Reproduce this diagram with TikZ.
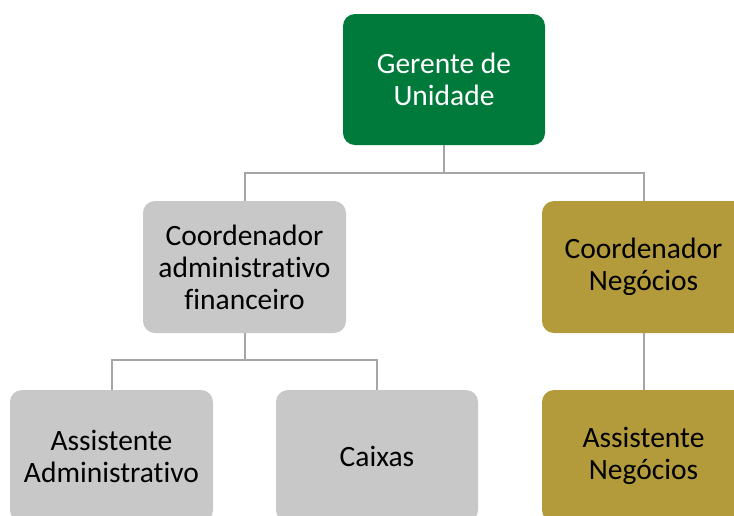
\documentclass[tikz,border=0pt]{standalone}
\usepackage{fontspec}
\setmainfont{Carlito}[Ligatures={NoCommon,NoContextual},Contextuals=NoAlternate]
\definecolor{boxgreen}{RGB}{0,122,59}
\definecolor{boxgrey}{RGB}{200,200,200}
\definecolor{boxgold}{RGB}{179,155,60}
\definecolor{linegrey}{RGB}{166,166,166}
\tikzset{
  orgbox/.style={rectangle, rounded corners=12pt, minimum width=203pt, minimum height=132pt,
    inner sep=0pt, align=center, font=\fontsize{29.5}{32}\selectfont},
  greenbox/.style={orgbox, fill=boxgreen, text=white},
  greybox/.style={orgbox, fill=boxgrey, text=black},
  goldbox/.style={orgbox, fill=boxgold, text=black},
  link/.style={draw=linegrey, line width=2pt}
}
\begin{document}
\begin{tikzpicture}[x=1pt,y=-1pt]
\useasboundingbox (0,0) rectangle (734,515);
\fill[white] (0,0) rectangle (734,515);
\node[greenbox, minimum width=202pt, minimum height=131pt] (g) at (444,79.5) {Gerente de\\Unidade};
\node[greybox] (ca) at (244.5,267) {Coordenador\\administrativo\\financeiro};
\node[goldbox] (cn) at (643.5,267) {Coordenador\\Negócios};
\node[greybox] (aa) at (111.5,456) {Assistente\\Administrativo};
\node[greybox, minimum width=202pt] (cx) at (377,456) {Caixas};
\node[goldbox] (an) at (643.5,456) {Assistente\\Negócios};
\draw[link] (g.south) -- ++(0,28) -| (ca.north);
\draw[link] (g.south) -- ++(0,28) -| (cn.north);
\draw[link] (ca.south) -- ++(0,27) -| (aa.north);
\draw[link] (ca.south) -- ++(0,27) -| (cx.north);
\draw[link] (cn.south) -- (an.north);
\end{tikzpicture}
\end{document}
